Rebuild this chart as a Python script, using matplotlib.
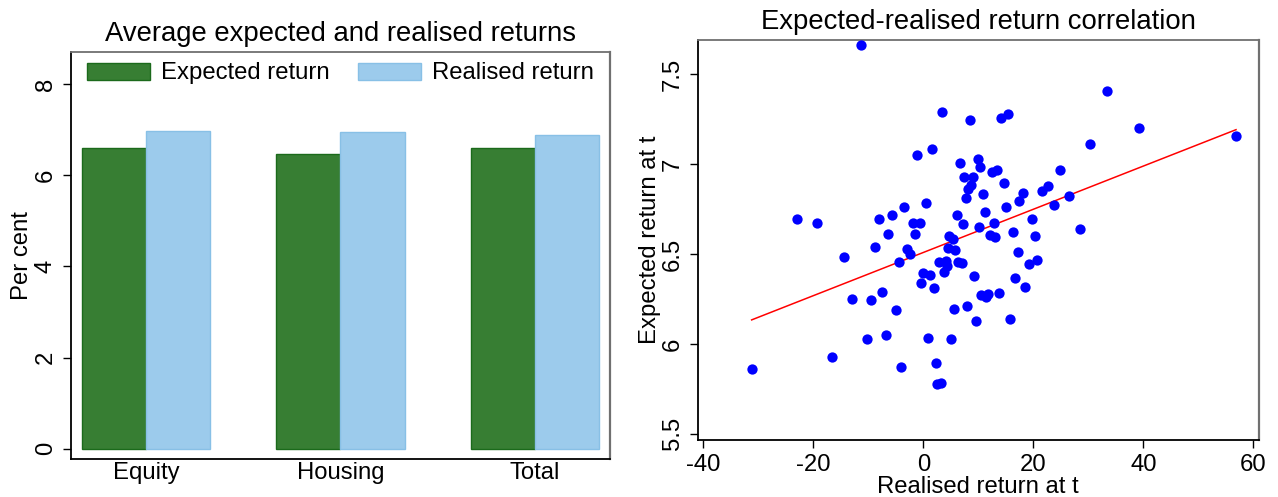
import numpy as np
import matplotlib
matplotlib.use("Agg")
import matplotlib.pyplot as plt

plt.rcParams['font.family'] = ['Liberation Sans', 'DejaVu Sans']

# bar chart data (per cent)
categories = ['Equity', 'Housing', 'Total']
expected_avg = [6.60, 6.46, 6.60]
realised_avg = [6.97, 6.95, 6.88]

# scatter data: realised return at t vs expected return at t
realised = [-11.33, 3.38, 8.41, -1.16, 1.56, 6.70, 9.86, 7.43, 8.96, 8.65,
            8.16, 7.74, 0.53, -3.47, -5.65, -8.12, -23.02, -19.27, -1.89, -0.67,
            6.05, 7.19, 10.10, -6.38, -1.47, 4.70, 14.10, 15.42, 33.48, 39.29,
            56.84, 30.39, 10.34, 12.41, 13.42, 24.94, 14.59, 10.83, 18.09, 17.49,
            21.60, 22.63, 26.50, 23.78, 15.06, 11.14, 12.77, 19.78, 16.22, 20.27,
            28.50, 12.04, 13.01, -31.19, -16.55, -4.12, 2.29, 2.42, 3.14, -10.25,
            -6.85, 0.89, 5.07, -12.92, -9.52, -7.52, -5.03, -0.38, 1.98, 5.50,
            7.87, 9.55, -0.02, 1.20, 3.74, 2.83, 4.11, 4.29, 6.34, 7.07,
            9.25, -14.37, -8.85, -2.92, -2.38, -4.49, 5.38, 4.41, 5.74, 17.13,
            19.18, 20.76, 16.69, 18.58, 10.46, 11.68, 11.37, 13.73, 15.79]
expected = [7.660, 7.291, 7.245, 7.052, 7.082, 7.007, 7.028, 6.929, 6.928, 6.882,
            6.861, 6.813, 6.783, 6.759, 6.715, 6.692, 6.696, 6.670, 6.672, 6.674,
            6.716, 6.665, 6.648, 6.611, 6.611, 6.601, 7.254, 7.276, 7.406, 7.199,
            7.157, 7.110, 6.983, 6.956, 6.967, 6.967, 6.894, 6.831, 6.839, 6.796,
            6.850, 6.876, 6.824, 6.774, 6.763, 6.733, 6.674, 6.694, 6.622, 6.600,
            6.637, 6.607, 6.592, 5.862, 5.928, 5.871, 5.893, 5.778, 5.780, 6.025,
            6.049, 6.034, 6.025, 6.249, 6.245, 6.290, 6.188, 6.336, 6.309, 6.194,
            6.212, 6.127, 6.395, 6.383, 6.401, 6.453, 6.462, 6.434, 6.453, 6.448,
            6.375, 6.481, 6.540, 6.527, 6.499, 6.457, 6.583, 6.534, 6.520, 6.512,
            6.442, 6.464, 6.364, 6.314, 6.270, 6.277, 6.259, 6.281, 6.136]

# fitted line (full-sample regression)
fit_intercept = 6.508
fit_slope = 0.01202

fig = plt.figure(figsize=(12.78, 4.97), dpi=100)

# ---------------- left: grouped bars ----------------
ax1 = fig.add_axes([0.0552, 0.0759, 0.4223, 0.8201])
x = np.arange(len(categories))
w = 0.33
ax1.bar(x - w / 2, expected_avg, w, color='#377e33', edgecolor='#1b6a1b',
        linewidth=1.0, label='Expected return')
ax1.bar(x + w / 2, realised_avg, w, color='#9ccbec', edgecolor='#88c0e6',
        linewidth=1.0, label='Realised return')
ax1.set_xlim(-0.389, 2.389)
ax1.set_ylim(-0.233, 8.716)
ax1.set_xticks(x)
ax1.set_xticklabels(categories, fontsize=17.2)
ax1.tick_params(axis='x', length=0, pad=2)
ax1.set_yticks([0, 2, 4, 6, 8])
ax1.set_yticklabels(['0', '2', '4', '6', '8'], rotation=90, va='center',
                    fontsize=17.2)
ax1.tick_params(axis='y', length=6, width=1.0, pad=4)
ax1.set_ylabel('Per cent', fontsize=17.2, labelpad=1)
ax1.set_title('Average expected and realised returns', fontsize=19.8, pad=8)
ax1.legend(loc='upper center', ncol=2, frameon=False, fontsize=17.2,
           handlelength=2.64, handleheight=0.72, columnspacing=1.19,
           handletextpad=0.46, borderaxespad=0.05, bbox_to_anchor=(0.5, 1.0))

# ---------------- right: scatter with fitted line ----------------
ax2 = fig.add_axes([0.5462, 0.1147, 0.4386, 0.8048])
ax2.scatter(realised, expected, s=55, color='#0000ff', zorder=3,
            linewidths=0)
xs = np.array([min(realised), max(realised)])
ax2.plot(xs, fit_intercept + fit_slope * xs, color='#ff0000', linewidth=1.1,
         zorder=2)
ax2.set_xlim(-40.93, 60.94)
ax2.set_ylim(5.465, 7.69)
ax2.set_xticks([-40, -20, 0, 20, 40, 60])
ax2.set_xticklabels(['-40', '-20', '0', '20', '40', '60'], fontsize=17.2)
ax2.set_yticks([5.5, 6, 6.5, 7, 7.5])
ax2.set_yticklabels(['5.5', '6', '6.5', '7', '7.5'], rotation=90,
                    va='center', fontsize=17.2)
ax2.tick_params(length=6, width=1.0, pad=4)
ax2.set_xlabel('Realised return at t', fontsize=17.2, labelpad=0)
ax2.set_ylabel('Expected return at t', fontsize=17.2, labelpad=1)
ax2.set_title('Expected-realised return correlation', fontsize=19.8, pad=8)

for ax in (ax1, ax2):
    ax.spines['left'].set_color('black')
    ax.spines['bottom'].set_color('black')
    ax.spines['left'].set_linewidth(1.3)
    ax.spines['bottom'].set_linewidth(1.3)
    ax.spines['top'].set_color('#707070')
    ax.spines['right'].set_color('#707070')
    ax.spines['top'].set_linewidth(1.3)
    ax.spines['right'].set_linewidth(1.6)

fig.savefig('out.png', dpi=100)
